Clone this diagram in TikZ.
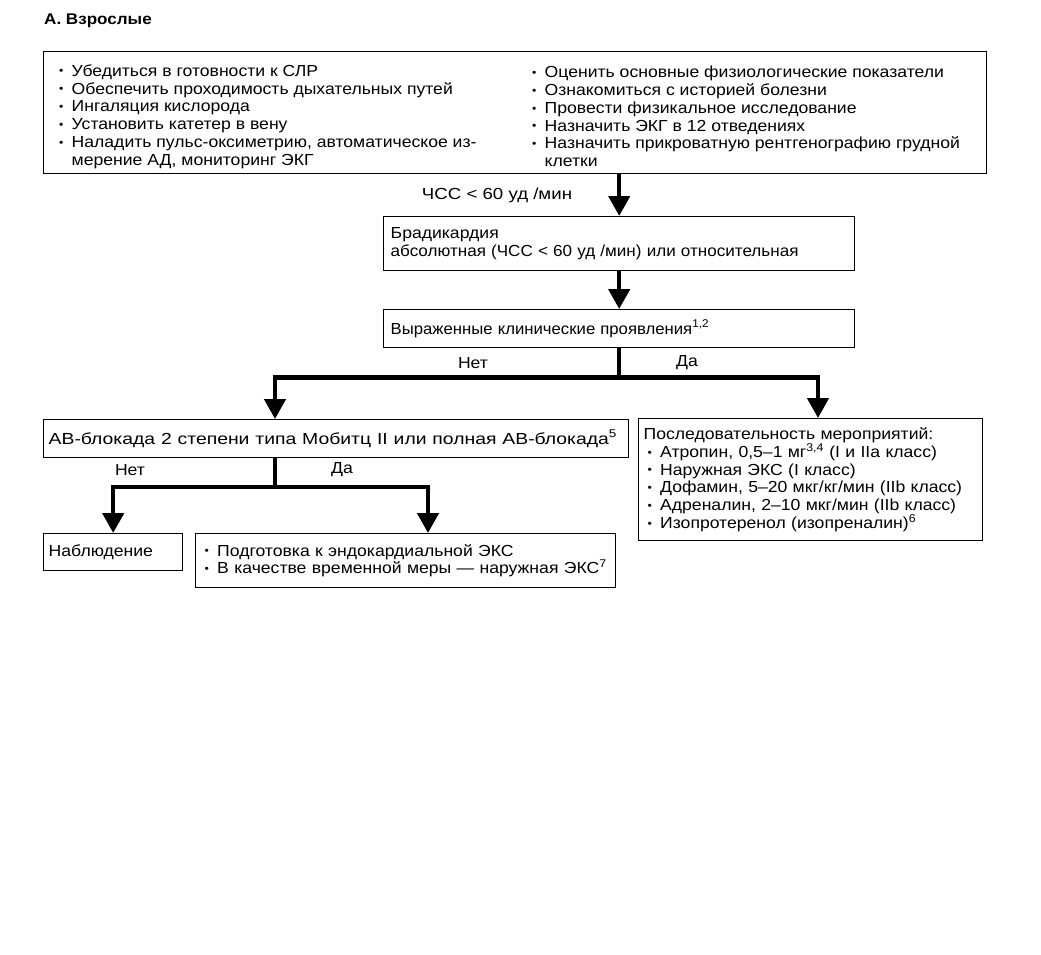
\documentclass[tikz,border=0pt]{standalone}
\usepackage{fontspec}
\setmainfont[FakeStretch=1.1]{Liberation Sans}
\usepackage{graphicx}
\usetikzlibrary{arrows.meta}
\newcommand\bul{\makebox[12.5pt][l]{\raisebox{0.15ex}{\scalebox{0.7}{•}}}}
\newcommand\bulx{\hspace*{4pt}\bul}
\newcommand\ind{\hspace*{12.5pt}}
\begin{document}
\begin{tikzpicture}[x=1pt,y=-1pt,
  every node/.style={font=\fontsize{16}{17.8}\selectfont},
  boxn/.style={draw, line width=1.4pt, rectangle, anchor=north west, align=left, inner ysep=0pt},
  txt/.style={inner sep=0pt, align=left},
  lbl/.style={inner sep=0pt},
  arr/.style={line width=4.5pt, line join=miter, -{Triangle[length=20pt,width=21pt]}},
  ln/.style={line width=4.5pt, line join=miter}
]
\useasboundingbox[fill=white] (0,0) rectangle (1041,954);
% title
\node[lbl, anchor=west, font=\fontsize{15.5}{17.8}\selectfont\bfseries] (title) at (44,21) {А. Взрослые};
% top box
\node[draw, line width=1.4pt, anchor=north west, minimum width=943pt, minimum height=122pt, inner sep=0pt] (top) at (43,51) {};
\node[txt, anchor=west] (topL) at (59,116.5) {\bul Убедиться в готовности к СЛР\\
\bul Обеспечить проходимость дыхательных путей\\
\bul Ингаляция кислорода\\
\bul Установить катетер в вену\\
\bul Наладить пульс-оксиметрию, автоматическое из-\\
\ind мерение АД, мониторинг ЭКГ};
\node[txt, anchor=west] (topR) at (532,116.5) {\bul Оценить основные физиологические показатели\\
\bul Ознакомиться с историей болезни\\
\bul Провести физикальное исследование\\
\bul Назначить ЭКГ в 12 отведениях\\
\bul Назначить прикроватную рентгенографию грудной\\
\ind клетки};
% box 2
\node[boxn, inner xsep=7pt, text width=457pt, minimum height=54pt] (b2) at (383,216)
  {Брадикардия\\\scalebox{0.97}[1]{абсолютная (ЧСС < 60 уд /мин) или относительная}};
% box 3
\node[boxn, inner xsep=7pt, text width=457pt, minimum height=38pt] (b3) at (383,309)
  {\scalebox{0.95}[1]{Выраженные клинические проявления\textsuperscript{1,2}}};
% AV box
\node[boxn, inner xsep=5pt, text width=575pt, minimum height=38pt] (av) at (43,419)
  {\scalebox{1.1}[1]{АВ-блокада 2 степени типа Мобитц II или полная АВ-блокада\textsuperscript{5}}};
% right box
\node[boxn, inner xsep=5pt, text width=334pt, minimum height=122pt] (rb) at (638,418)
  {Последовательность мероприятий:\\
  \bulx Атропин, 0,5–1 мг\textsuperscript{3,4} (I и IIa класс)\\
  \bulx Наружная ЭКС (I класс)\\
  \bulx Дофамин, 5–20 мкг/кг/мин (IIb класс)\\
  \bulx Адреналин, 2–10 мкг/мин (IIb класс)\\
  \bulx Изопротеренол (изопреналин)\textsuperscript{6}};
% observation
\node[boxn, inner xsep=5pt, text width=129pt, minimum height=37pt] (obs) at (43,533) {Наблюдение};
% pacing
\node[boxn, inner xsep=5pt, text width=410pt, minimum height=54pt] (pace) at (195,533)
  {\bulx Подготовка к эндокардиальной ЭКС\\
  \bulx В качестве временной меры — наружная ЭКС\textsuperscript{7}};
% labels
\node[lbl] (l1) at (497,195) {\scalebox{1.06}[1]{ЧСС < 60 уд /мин}};
\node[lbl] (l2) at (473,363) {Нет};
\node[lbl] (l3) at (687,363) {Да};
\node[lbl] (l4) at (130,470) {Нет};
\node[lbl] (l5) at (342,470) {Да};
% junction coordinates
\path (b3.south) ++(0,29) coordinate (j1);
\coordinate (avin) at (275,419);
\coordinate (rbin) at (818,418);
\coordinate (j2) at (275,487);
\coordinate (pacein) at (428,533);
% connectors
\draw[arr] (b2.north |- top.south) -- (b2.north);
\draw[arr] (b2.south) -- (b3.north);
\draw[ln] (b3.south) -- (j1);
\draw[arr] (j1) -| (avin);
\draw[arr] (j1) -| (rbin);
\draw[ln] (av.south -| j2) -- (j2);
\draw[arr] (j2) -| (obs.north);
\draw[arr] (j2) -| (pacein);
\end{tikzpicture}
\end{document}
